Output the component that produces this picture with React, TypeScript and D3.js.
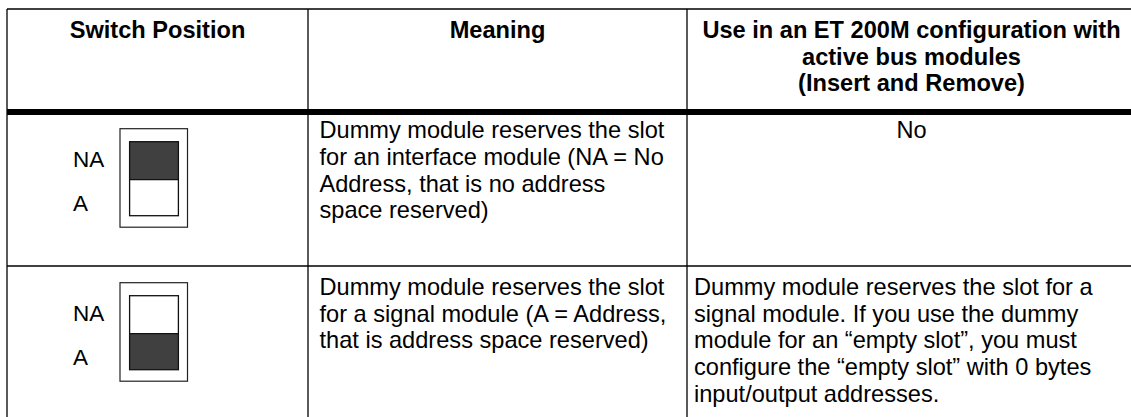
import React, { useEffect, useRef } from 'react';
import * as d3 from 'd3';

// table content
const headers: string[][] = [
  ['Switch Position'],
  ['Meaning'],
  ['Use in an ET 200M configuration with', 'active bus modules', '(Insert and Remove)'],
];
const switchLabels = ['NA', 'A'];
const switchSettings = ['NA', 'A'];
const meanings: string[][] = [
  ['Dummy module reserves the slot', 'for an interface module (NA = No', 'Address, that is no address', 'space reserved)'],
  ['Dummy module reserves the slot', 'for a signal module (A = Address,', 'that is address space reserved)'],
];
const usage: string[][] = [
  ['No'],
  [
    'Dummy module reserves the slot for a',
    'signal module. If you use the dummy',
    'module for an \u201cempty slot\u201d, you must',
    'configure the \u201cempty slot\u201d with 0 bytes',
    'input/output addresses.',
  ],
];
const usageCentered = [true, false];

const W = 1131;
const H = 417;
const FONT = 'Liberation Sans, Arial, Helvetica, sans-serif';

const Table: React.FC = () => {
  const ref = useRef<SVGSVGElement | null>(null);

  useEffect(() => {
    const svg = d3.select(ref.current);
    svg.selectAll('*').remove();

    const colEdges = [7, 308, 687, 1136];
    const top = 9;
    const ruleY = 112;
    const lineH = 26.7;
    const fs = 23.6;

    const rowScale = d3.scaleOrdinal<number, number>().domain([0, 1]).range([112, 266]);
    const textOffset = d3.scaleOrdinal<number, number>().domain([0, 1]).range([26.3, 29]);
    const colCenter = (i: number) => (colEdges[i] + colEdges[i + 1]) / 2;

    const g = svg.append('g');

    // borders
    g.append('line').attr('x1', colEdges[0]).attr('x2', colEdges[3])
      .attr('y1', top).attr('y2', top).attr('stroke', '#000').attr('stroke-width', 1.3);
    colEdges.forEach(x => {
      g.append('line').attr('x1', x).attr('x2', x).attr('y1', top).attr('y2', H + 10)
        .attr('stroke', '#000').attr('stroke-width', 1.3);
    });
    g.append('line').attr('x1', colEdges[0]).attr('x2', colEdges[3])
      .attr('y1', ruleY).attr('y2', ruleY).attr('stroke', '#000').attr('stroke-width', 6);
    g.append('line').attr('x1', colEdges[0]).attr('x2', colEdges[3])
      .attr('y1', rowScale(1)).attr('y2', rowScale(1)).attr('stroke', '#000').attr('stroke-width', 1.3);

    // header
    headers.forEach((lines, ci) => {
      const t = g.append('text')
        .attr('font-family', FONT).attr('font-size', fs).attr('font-weight', 'bold')
        .attr('text-anchor', 'middle').attr('fill', '#000');
      lines.forEach((l, li) => {
        t.append('tspan').attr('x', colCenter(ci)).attr('y', 38 + li * lineH).text(l);
      });
    });

    // switch drawings
    switchSettings.forEach((setting, ri) => {
      const y0 = rowScale(ri);
      const ox = 120, oy = y0 + 16.7, ow = 67.5, oh = 98.5;
      const ix = ox + 9.6, iy = oy + 13, iw = 48.8, ih = 74, split = 38;
      g.append('rect').attr('x', ox).attr('y', oy).attr('width', ow).attr('height', oh)
        .attr('fill', '#fff').attr('stroke', '#222').attr('stroke-width', 1.2);
      g.append('rect').attr('x', ix).attr('y', setting === 'NA' ? iy : iy + split)
        .attr('width', iw).attr('height', setting === 'NA' ? split : ih - split)
        .attr('fill', '#404040');
      g.append('rect').attr('x', ix).attr('y', iy).attr('width', iw).attr('height', ih)
        .attr('fill', 'none').attr('stroke', '#111').attr('stroke-width', 1.3);
      g.append('line').attr('x1', ix).attr('x2', ix + iw).attr('y1', iy + split).attr('y2', iy + split)
        .attr('stroke', '#111').attr('stroke-width', 1.2);

      switchLabels.forEach((lab, li) => {
        g.append('text').attr('x', 73).attr('y', y0 + (li === 0 ? 54.7 : 98.8))
          .attr('font-family', FONT).attr('font-size', 22.5).attr('fill', '#000')
          .text(lab);
      });
    });

    // meaning column
    meanings.forEach((lines, ri) => {
      const base = rowScale(ri) + textOffset(ri);
      const t = g.append('text').attr('font-family', FONT).attr('font-size', fs).attr('fill', '#000');
      lines.forEach((l, li) => {
        t.append('tspan').attr('x', colEdges[1] + 11.5).attr('y', base + li * lineH).text(l);
      });
    });

    // usage column
    usage.forEach((lines, ri) => {
      const base = rowScale(ri) + textOffset(ri);
      const centered = usageCentered[ri];
      const t = g.append('text').attr('font-family', FONT).attr('font-size', fs).attr('fill', '#000')
        .attr('text-anchor', centered ? 'middle' : 'start');
      lines.forEach((l, li) => {
        t.append('tspan').attr('x', centered ? colCenter(2) : colEdges[2] + 7)
          .attr('y', base + li * lineH).text(l);
      });
    });
  }, []);

  return (
    <svg ref={ref} width={W} height={H}
      style={{ position: 'absolute', left: 0, top: 0, background: '#fff', display: 'block' }} />
  );
};

export default function App() {
  return <Table />;
}
